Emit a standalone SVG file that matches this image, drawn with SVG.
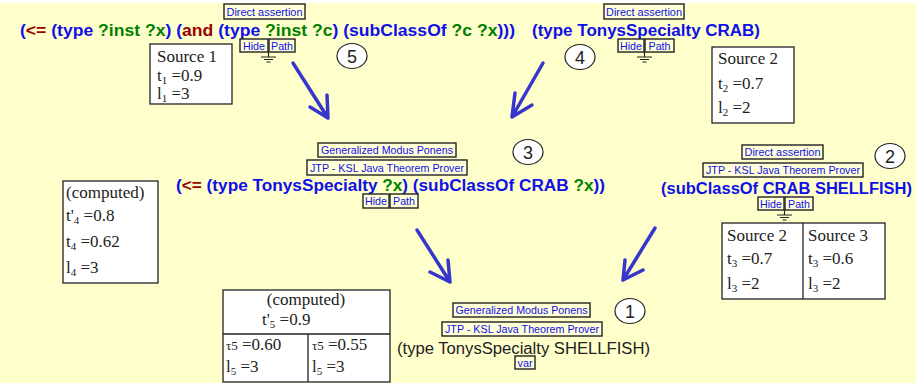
<svg xmlns="http://www.w3.org/2000/svg" width="922" height="387" viewBox="0 0 922 387">
<defs>
<style>
.lbl{fill:#FFFFD8;stroke:#222;stroke-width:1.4}
.lt{font-family:"Liberation Sans",Arial,sans-serif;font-size:11px;fill:#1010E8}
.f{font-family:"Liberation Sans",Arial,sans-serif;font-size:16px;font-weight:bold}
.b{fill:#1010E8}.g{fill:#008000}.r{fill:#990000}
.box{fill:#fff;stroke:#222;stroke-width:1.3}
.s{font-family:"Liberation Serif","Times New Roman",serif;font-size:17px;fill:#222}
.sub{font-size:11px}
.cir{fill:#fff;stroke:#222;stroke-width:1.2}
.num{font-family:"Liberation Sans",Arial,sans-serif;font-size:18px;fill:#222;text-anchor:middle}
.arr{fill:none;stroke:#3636CC;stroke-width:3.5;stroke-linecap:round;stroke-linejoin:round}
.gnd{stroke:#222;stroke-width:1.2}
</style>
</defs>
<rect x="0" y="0" width="922" height="387" fill="#fff"/>
<rect x="0" y="3" width="916" height="380" fill="#FFFFCC"/>

<g id="connectors">
<path class="arr" d="M293,63 L328,118 M310,107 L328,118 L327,95"/>
<path class="arr" d="M543,63 L512,117 M515,93 L512,117 L532,105"/>
<path class="arr" d="M417,230 L450,282 M448,260 L450,282 L430,272"/>
<path class="arr" d="M655,228 L623,280 M625,260 L623,280 L643,270"/>
</g>

<g id="node5">
<rect class="lbl" x="224" y="4" width="81" height="15"/>
<text class="lt" x="264.5" y="15.5" text-anchor="middle" textLength="76" lengthAdjust="spacingAndGlyphs">Direct assertion</text>
<text class="f" x="20" y="36" textLength="495" lengthAdjust="spacingAndGlyphs"><tspan class="b">(</tspan><tspan class="r">&lt;=</tspan><tspan class="b"> (type </tspan><tspan class="g">?inst ?x</tspan><tspan class="b">) (</tspan><tspan class="r">and</tspan><tspan class="b"> (type </tspan><tspan class="g">?inst ?c</tspan><tspan class="b">) (subClassOf </tspan><tspan class="g">?c ?x</tspan><tspan class="b">)))</tspan></text>
<rect class="lbl" x="240" y="39" width="28" height="13"/>
<rect class="lbl" x="269" y="39" width="26" height="13"/>
<text class="lt" x="254" y="49.5" text-anchor="middle" textLength="22" lengthAdjust="spacingAndGlyphs">Hide</text>
<text class="lt" x="282" y="49.5" text-anchor="middle" textLength="22" lengthAdjust="spacingAndGlyphs">Path</text>
<path class="gnd" d="M268.5,52 V57 M261,57 H276 M264,59.5 H273 M266.5,62 H270.5"/>
<ellipse class="cir" cx="352" cy="56" rx="15" ry="12.5"/>
<text class="num" x="352" y="62.5">5</text>
</g>

<g id="source1">
<rect class="box" x="150" y="44" width="82" height="60"/>
<text class="s" x="157" y="62">Source 1</text>
<text class="s" x="157" y="81">t<tspan class="sub" dy="3">1</tspan><tspan dy="-3"> =0.9</tspan></text>
<text class="s" x="157" y="99">l<tspan class="sub" dy="3">1</tspan><tspan dy="-3"> =3</tspan></text>
</g>

<g id="node4">
<rect class="lbl" x="604" y="4" width="80" height="15"/>
<text class="lt" x="644" y="15.5" text-anchor="middle" textLength="76" lengthAdjust="spacingAndGlyphs">Direct assertion</text>
<text class="f b" x="532" y="36" textLength="228" lengthAdjust="spacingAndGlyphs">(type TonysSpecialty CRAB)</text>
<rect class="lbl" x="618" y="39" width="26" height="13"/>
<rect class="lbl" x="645" y="39" width="29" height="13"/>
<text class="lt" x="631" y="49.5" text-anchor="middle" textLength="22" lengthAdjust="spacingAndGlyphs">Hide</text>
<text class="lt" x="659.5" y="49.5" text-anchor="middle" textLength="22" lengthAdjust="spacingAndGlyphs">Path</text>
<path class="gnd" d="M644.5,52 V57 M637,57 H652 M640,59.5 H649 M642.5,62 H646.5"/>
<ellipse class="cir" cx="580" cy="57" rx="15" ry="12.5"/>
<text class="num" x="580" y="63.5">4</text>
</g>

<g id="source2">
<rect class="box" x="712" y="47" width="82" height="76"/>
<text class="s" x="718" y="64">Source 2</text>
<text class="s" x="718" y="89">t<tspan class="sub" dy="3">2</tspan><tspan dy="-3"> =0.7</tspan></text>
<text class="s" x="718" y="113">l<tspan class="sub" dy="3">2</tspan><tspan dy="-3"> =2</tspan></text>
</g>

<g id="node3">
<rect class="lbl" x="318" y="143" width="138" height="14"/>
<text class="lt" x="387" y="154" text-anchor="middle" textLength="132" lengthAdjust="spacingAndGlyphs">Generalized Modus Ponens</text>
<rect class="lbl" x="307" y="160" width="160" height="15"/>
<text class="lt" x="387" y="171.5" text-anchor="middle" textLength="154" lengthAdjust="spacingAndGlyphs">JTP - KSL Java Theorem Prover</text>
<text class="f" x="176" y="191" textLength="429" lengthAdjust="spacingAndGlyphs"><tspan class="b">(</tspan><tspan class="r">&lt;=</tspan><tspan class="b"> (type TonysSpecialty </tspan><tspan class="g">?x</tspan><tspan class="b">) (subClassOf CRAB </tspan><tspan class="g">?x</tspan><tspan class="b">))</tspan></text>
<rect class="lbl" x="363" y="194" width="26" height="14"/>
<rect class="lbl" x="390" y="194" width="28" height="14"/>
<text class="lt" x="376" y="205" text-anchor="middle" textLength="22" lengthAdjust="spacingAndGlyphs">Hide</text>
<text class="lt" x="404" y="205" text-anchor="middle" textLength="22" lengthAdjust="spacingAndGlyphs">Path</text>
<ellipse class="cir" cx="528" cy="152" rx="15" ry="12.5"/>
<text class="num" x="528" y="158.5">3</text>
</g>

<g id="computed4">
<rect class="box" x="63" y="181" width="95" height="102"/>
<text class="s" x="66" y="198">(computed)</text>
<text class="s" x="66" y="221">t'<tspan class="sub" dy="3">4</tspan><tspan dy="-3"> =0.8</tspan></text>
<text class="s" x="66" y="247">t<tspan class="sub" dy="3">4</tspan><tspan dy="-3"> =0.62</tspan></text>
<text class="s" x="66" y="273">l<tspan class="sub" dy="3">4</tspan><tspan dy="-3"> =3</tspan></text>
</g>

<g id="node2">
<rect class="lbl" x="742" y="145" width="81" height="14"/>
<text class="lt" x="782.5" y="156" text-anchor="middle" textLength="76" lengthAdjust="spacingAndGlyphs">Direct assertion</text>
<rect class="lbl" x="703" y="163" width="160" height="14"/>
<text class="lt" x="783" y="174" text-anchor="middle" textLength="154" lengthAdjust="spacingAndGlyphs">JTP - KSL Java Theorem Prover</text>
<text class="f b" x="661" y="194" textLength="251" lengthAdjust="spacingAndGlyphs">(subClassOf CRAB SHELLFISH)</text>
<rect class="lbl" x="758" y="197" width="26" height="13"/>
<rect class="lbl" x="785" y="197" width="28" height="13"/>
<text class="lt" x="771" y="207.5" text-anchor="middle" textLength="22" lengthAdjust="spacingAndGlyphs">Hide</text>
<text class="lt" x="799" y="207.5" text-anchor="middle" textLength="22" lengthAdjust="spacingAndGlyphs">Path</text>
<path class="gnd" d="M784.5,210 V215 M777,215 H792 M780,217.5 H789 M782.5,220 H786.5"/>
<ellipse class="cir" cx="890" cy="156" rx="15" ry="12.5"/>
<text class="num" x="890" y="162.5">2</text>
</g>

<g id="source23">
<rect class="box" x="722" y="223" width="163" height="76"/>
<line x1="803" y1="223" x2="803" y2="299" stroke="#222" stroke-width="1.3"/>
<text class="s" x="727" y="241">Source 2</text>
<text class="s" x="727" y="264">t<tspan class="sub" dy="3">3</tspan><tspan dy="-3"> =0.7</tspan></text>
<text class="s" x="727" y="289">l<tspan class="sub" dy="3">3</tspan><tspan dy="-3"> =2</tspan></text>
<text class="s" x="808" y="241">Source 3</text>
<text class="s" x="808" y="264">t<tspan class="sub" dy="3">3</tspan><tspan dy="-3"> =0.6</tspan></text>
<text class="s" x="808" y="289">l<tspan class="sub" dy="3">3</tspan><tspan dy="-3"> =2</tspan></text>
</g>

<g id="computed5">
<rect class="box" x="223" y="290" width="167" height="92"/>
<line x1="223" y1="334" x2="390" y2="334" stroke="#222" stroke-width="1.3"/>
<line x1="308" y1="334" x2="308" y2="382" stroke="#222" stroke-width="1.3"/>
<text class="s" x="306" y="305" text-anchor="middle">(computed)</text>
<text class="s" x="262" y="325">t'<tspan class="sub" dy="3">5</tspan><tspan dy="-3"> =0.9</tspan></text>
<text class="s" x="226" y="350"><tspan font-size="13">τ5</tspan> =0.60</text>
<text class="s" x="226" y="372">l<tspan class="sub" dy="3">5</tspan><tspan dy="-3"> =3</tspan></text>
<text class="s" x="312" y="350"><tspan font-size="13">τ5</tspan> =0.55</text>
<text class="s" x="312" y="372">l<tspan class="sub" dy="3">5</tspan><tspan dy="-3"> =3</tspan></text>
</g>

<g id="node1">
<rect class="lbl" x="453" y="303" width="137" height="14"/>
<text class="lt" x="521.5" y="314" text-anchor="middle" textLength="132" lengthAdjust="spacingAndGlyphs">Generalized Modus Ponens</text>
<rect class="lbl" x="442" y="322" width="160" height="14"/>
<text class="lt" x="522" y="333" text-anchor="middle" textLength="154" lengthAdjust="spacingAndGlyphs">JTP - KSL Java Theorem Prover</text>
<text x="397" y="354" font-family="'Liberation Sans',Arial,sans-serif" font-size="16" fill="#222" textLength="253" lengthAdjust="spacingAndGlyphs">(type TonysSpecialty SHELLFISH)</text>
<rect class="lbl" x="515" y="356" width="20" height="13"/>
<text class="lt" x="525" y="366.5" text-anchor="middle" textLength="15" lengthAdjust="spacingAndGlyphs">var</text>
<ellipse class="cir" cx="630" cy="311" rx="15" ry="12.5"/>
<text class="num" x="630" y="317.5">1</text>
</g>
</svg>
